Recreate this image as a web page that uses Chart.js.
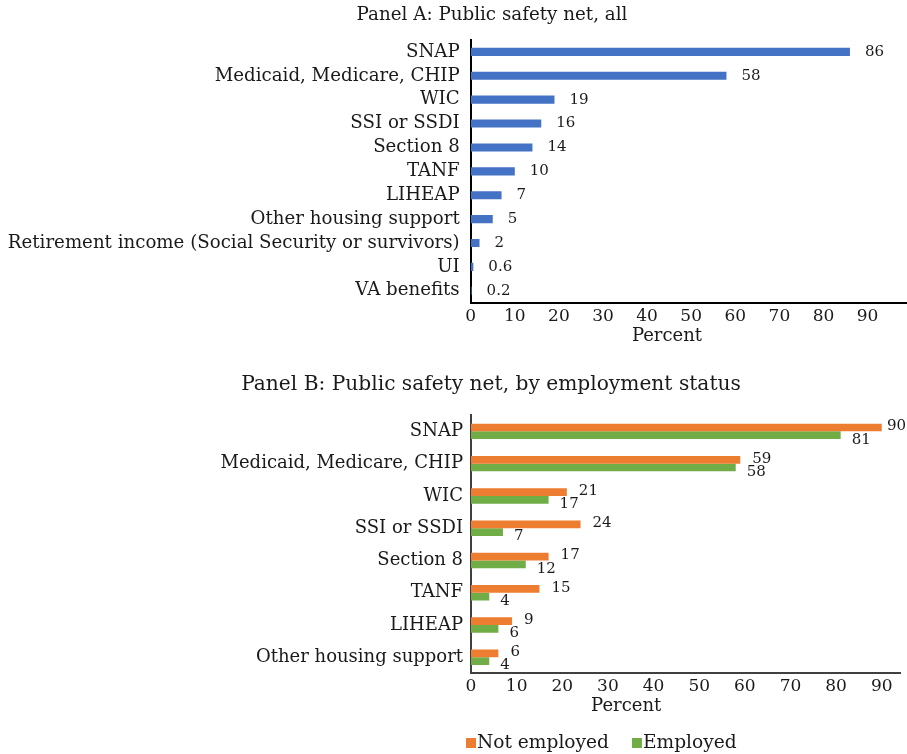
<!DOCTYPE html>
<html lang="en">

<head>
    <meta charset="UTF-8">
    <title>Public safety net</title>
    <script src="https://cdn.jsdelivr.net/npm/chart.js"></script>
    <style>
        html, body { margin: 0; padding: 0; background: #fff; overflow: hidden; }
        #wrap { position: relative; width: 907px; height: 754px; overflow: hidden; }
        .panel { position: absolute; left: 0; }
        /* panel A runs past the right edge so its axis line reaches the border */
        #panelA { top: 0; width: 984px; height: 350px; }
        #panelB { top: 360px; width: 907px; height: 394px; }
    </style>
</head>

<body>
    <div id="wrap">
        <div class="panel" id="panelA"><canvas id="chartA"></canvas></div>
        <div class="panel" id="panelB"><canvas id="chartB"></canvas></div>
    </div>
    <script>
        // Panel A: share of all respondents
        const programsAll = ['SNAP', 'Medicaid, Medicare, CHIP', 'WIC', 'SSI or SSDI', 'Section 8', 'TANF',
            'LIHEAP', 'Other housing support', 'Retirement income (Social Security or survivors)', 'UI', 'VA benefits'];
        const shareAll = [86, 58, 19, 16, 14, 10, 7, 5, 2, 0.6, 0.2];

        // Panel B: split by employment status
        const programsByStatus = ['SNAP', 'Medicaid, Medicare, CHIP', 'WIC', 'SSI or SSDI', 'Section 8', 'TANF',
            'LIHEAP', 'Other housing support'];
        const notEmployed = [90, 59, 21, 24, 17, 15, 9, 6];
        const employed = [81, 58, 17, 7, 12, 4, 6, 4];

        const xTicks = [0, 10, 20, 30, 40, 50, 60, 70, 80, 90];

        const FONT = 'DejaVu Serif';
        Chart.defaults.font.family = FONT;
        Chart.defaults.color = '#1a1a1a';

        // value labels at the end of each bar, plus the "Percent" caption and the legend
        const barText = {
            id: 'barText',
            afterDatasetsDraw(chart, args, opts) {
                const ctx = chart.ctx;
                const edge = opts.edge || chart.width;
                ctx.save();
                ctx.fillStyle = '#1a1a1a';
                ctx.textBaseline = 'middle';
                ctx.textAlign = 'left';
                ctx.font = opts.valueSize + 'px "' + FONT + '"';
                chart.data.datasets.forEach((ds, i) => {
                    const meta = chart.getDatasetMeta(i);
                    const shift = opts.shift[i];
                    meta.data.forEach((bar, j) => {
                        const txt = String(ds.data[j]);
                        const w = ctx.measureText(txt).width;
                        const x = Math.min(bar.x + shift.dx, edge - w - 1);
                        ctx.fillText(txt, x, bar.y + shift.dy);
                    });
                });

                // axis caption
                const xs = chart.scales.x;
                ctx.textAlign = 'center';
                ctx.font = opts.captionSize + 'px "' + FONT + '"';
                ctx.fillText('Percent', xs.getPixelForValue(opts.captionAt), chart.chartArea.bottom + opts.captionGap);

                // legend row
                if (opts.legend) {
                    const lg = opts.legend;
                    let x = lg.x;
                    ctx.textAlign = 'left';
                    ctx.textBaseline = 'alphabetic';
                    ctx.font = lg.size + 'px "' + FONT + '"';
                    chart.data.datasets.forEach(ds => {
                        ctx.fillStyle = ds.backgroundColor;
                        ctx.fillRect(x, lg.y - lg.box, lg.box, lg.box);
                        ctx.fillStyle = '#1a1a1a';
                        ctx.fillText(ds.label, x + lg.box + 1, lg.y);
                        x += lg.box + 1 + ctx.measureText(ds.label).width + lg.gap;
                    });
                }
                ctx.restore();
            }
        };

        function xScale(max, axisColor, tickPad) {
            return {
                min: 0,
                max: max,
                afterBuildTicks(scale) {
                    scale.ticks = xTicks.map(v => ({ value: v }));
                },
                grid: { display: false, drawTicks: false },
                border: { display: true, color: axisColor, width: 2 },
                ticks: { font: { size: 17 }, padding: tickPad, color: '#1a1a1a' }
            };
        }

        function yScale(width, axisColor, tickPad, size) {
            return {
                afterFit(scale) { scale.width = width; },
                grid: { display: false, drawTicks: false },
                border: { display: true, color: axisColor, width: 2 },
                ticks: { font: { size: size }, padding: tickPad, color: '#1a1a1a', autoSkip: false }
            };
        }

        new Chart(document.getElementById('chartA'), {
            type: 'bar',
            data: {
                labels: programsAll,
                datasets: [{
                    label: 'All',
                    data: shareAll,
                    backgroundColor: '#4472C4',
                    barPercentage: 0.34,
                    categoryPercentage: 1
                }]
            },
            options: {
                indexAxis: 'y',
                responsive: true,
                maintainAspectRatio: false,
                animation: false,
                layout: { padding: 0 },
                scales: {
                    x: Object.assign(xScale(116.4, '#000', 4), {
                        afterFit(scale) { scale.height = 47.3; }
                    }),
                    y: yScale(470.7, '#000', 11, 18.2)
                },
                plugins: {
                    legend: { display: false },
                    tooltip: { enabled: false },
                    title: {
                        display: true,
                        text: 'Panel A: Public safety net, all',
                        font: { size: 18.3, weight: 'normal' },
                        color: '#1a1a1a',
                        padding: { top: 4, bottom: 14 }
                    },
                    barText: {
                        valueSize: 15,
                        edge: 907,
                        shift: [{ dx: 15, dy: 0 }],
                        captionSize: 18,
                        captionAt: 44.5,
                        captionGap: 34
                    }
                }
            },
            plugins: [barText]
        });

        new Chart(document.getElementById('chartB'), {
            type: 'bar',
            data: {
                labels: programsByStatus,
                datasets: [{
                    label: 'Not employed',
                    data: notEmployed,
                    backgroundColor: '#ED7D31',
                    barPercentage: 1,
                    categoryPercentage: 0.48
                }, {
                    label: 'Employed',
                    data: employed,
                    backgroundColor: '#70AD47',
                    barPercentage: 1,
                    categoryPercentage: 0.48
                }]
            },
            options: {
                indexAxis: 'y',
                responsive: true,
                maintainAspectRatio: false,
                animation: false,
                layout: { padding: { left: 82, right: 7, top: 0, bottom: 0 } },
                scales: {
                    x: Object.assign(xScale(94, '#404040', 3.2), {
                        afterFit(scale) { scale.height = 80.7; }
                    }),
                    y: yScale(389, '#404040', 8, 18)
                },
                plugins: {
                    legend: { display: false },
                    tooltip: { enabled: false },
                    title: {
                        display: true,
                        text: 'Panel B: Public safety net, by employment status',
                        font: { size: 20.2, weight: 'normal' },
                        color: '#1a1a1a',
                        padding: { top: 13, bottom: 18 }
                    },
                    barText: {
                        valueSize: 15,
                        shift: [{ dx: 12, dy: -1 }, { dx: 11, dy: 4.5 }],
                        captionSize: 18,
                        captionAt: 34,
                        captionGap: 33.4,
                        legend: { x: 466, y: 388, box: 10, size: 18.6, gap: 23 }
                    }
                }
            },
            plugins: [barText]
        });
    </script>
</body>

</html>
